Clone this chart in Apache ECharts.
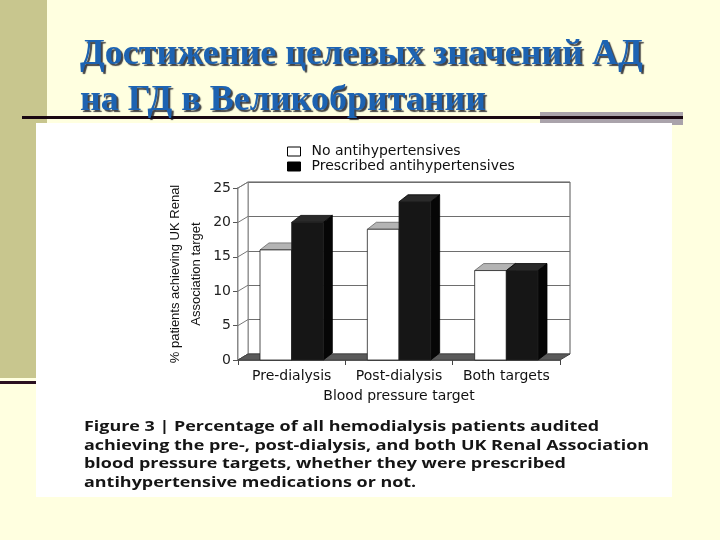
<!DOCTYPE html>
<html>
<head>
<meta charset="utf-8">
<script src="https://cdn.jsdelivr.net/npm/echarts@6/dist/echarts.min.js"></script>
<style>html,body{margin:0;padding:0;background:#FFFFE0;}#c{width:720px;height:540px;}</style>
</head>
<body>
<div id="c"></div>
<script>
// ---- data ----
var categories = ['Pre-dialysis', 'Post-dialysis', 'Both targets'];
var noAntihypertensives = [16, 19, 13];
var prescribedAntihypertensives = [20, 23, 13];
var yTicks = [0, 5, 10, 15, 20, 25];
var seriesNames = ['No antihypertensives', 'Prescribed antihypertensives'];
var titleText = 'Достижение целевых значений АД\nна ГД в Великобритании';
var captionLines = [
  'Figure 3 | Percentage of all hemodialysis patients audited',
  'achieving the pre-, post-dialysis, and both UK Renal Association',
  'blood pressure targets, whether they were prescribed',
  'antihypertensive medications or not.'
];

var chart = echarts.init(document.getElementById('c'), null, {renderer: 'canvas'});
var DX = 10, DY = -6;      // wall depth
var BDX = 9, BDY = -7;     // bar depth
var FONT = 'DejaVu Sans';

function wallsRender(params, api) {
  var cs = params.coordSys;
  var x = cs.x, y = cs.y, w = cs.width, h = cs.height;
  var children = [];
  children.push({type: 'polygon', shape: {points: [[x, y], [x + DX, y + DY], [x + DX, y + h + DY], [x, y + h]]},
    style: {fill: '#fff', stroke: '#888', lineWidth: 1}});
  yTicks.forEach(function (v) {
    var py = api.coord([0, v])[1];
    children.push({type: 'line', shape: {x1: x, y1: py, x2: x + DX, y2: py + DY}, style: {stroke: '#777', lineWidth: 1}});
  });
  children.push({type: 'polygon', shape: {points: [[x, y + h], [x + w, y + h], [x + w + DX, y + h + DY], [x + DX, y + h + DY]]},
    style: {fill: '#5a5a5a', stroke: '#444', lineWidth: 1}});
  return {type: 'group', children: children};
}

function barRender(which) {
  return function (params, api) {
    var i = api.value(0), v = api.value(1);
    var top = api.coord([i, v]);
    var base = api.coord([i, 0]);
    var band = api.size([1, 0])[0];
    var bw = band * 0.295;
    var x0 = which === 0 ? top[0] - bw : top[0];
    var yt = top[1], yb = base[1];
    var frontFill = which === 0 ? '#ffffff' : '#161616';
    var topFill = which === 0 ? '#b4b4b4' : '#2a2a2a';
    var sideFill = which === 0 ? '#9a9a9a' : '#060606';
    return {type: 'group', children: [
      {type: 'polygon', shape: {points: [[x0 + bw, yt], [x0 + bw + BDX, yt + BDY], [x0 + bw + BDX, yb + BDY], [x0 + bw, yb]]},
        style: {fill: sideFill, stroke: '#000', lineWidth: 0.8}},
      {type: 'polygon', shape: {points: [[x0, yt], [x0 + bw, yt], [x0 + bw + BDX, yt + BDY], [x0 + BDX, yt + BDY]]},
        style: {fill: topFill, stroke: which === 0 ? '#666' : '#000', lineWidth: 0.8}},
      {type: 'rect', shape: {x: x0, y: yt, width: bw, height: yb - yt},
        style: {fill: frontFill, stroke: '#222', lineWidth: 0.8}}
    ]};
  };
}

var option = {
  backgroundColor: '#FFFFE0',
  animation: false,
  title: {
    text: titleText, left: 75, top: 27,
    textStyle: {fontFamily: 'Liberation Serif', fontWeight: 'bold', fontSize: 36, lineHeight: 46,
      color: '#1d63b2', textShadowColor: 'rgba(20,20,30,0.8)', textShadowOffsetX: 2, textShadowOffsetY: 2, textShadowBlur: 1}
  },
  graphic: [
    {type: 'rect', z: -100, shape: {x: 0, y: 0, width: 47, height: 378}, style: {fill: '#C8C68E'}},
    {type: 'rect', z: -99, shape: {x: 0, y: 381, width: 37, height: 3}, style: {fill: '#2a1020'}},
    {type: 'rect', z: -99, shape: {x: 540, y: 112, width: 143, height: 13}, style: {fill: '#aaa3ab'}},
    {type: 'rect', z: -98, shape: {x: 22, y: 116, width: 661, height: 3}, style: {fill: '#1a0812'}},
    {type: 'rect', z: -97, shape: {x: 36, y: 123, width: 636, height: 374}, style: {fill: '#ffffff'}},
    {type: 'text', z: 10, x: 84, y: 418, scaleX: 1.28,
      style: {text: captionLines.join('\n'), font: 'bold 14px "Open Sans"', lineHeight: 18.5, fill: '#151515'}}
  ],
  legend: {
    orient: 'vertical', left: 282, top: 139, itemWidth: 13, itemHeight: 9, itemGap: 0,
    icon: 'rect',
    textStyle: {fontFamily: FONT, fontSize: 14, color: '#111', lineHeight: 15, padding: [0, 0, 0, 6]},
    data: [
      {name: seriesNames[0], itemStyle: {color: '#fff', borderColor: '#000', borderWidth: 1}},
      {name: seriesNames[1], itemStyle: {color: '#000', borderColor: '#000', borderWidth: 1}}
    ]
  },
  grid: [
    {left: 248, top: 182, right: 150, bottom: 186, show: true, backgroundColor: '#fff', borderColor: '#555', borderWidth: 1, z: 0},
    {left: 238, top: 188, right: 160, bottom: 180, z: 1}
  ],
  xAxis: [
    {gridIndex: 0, type: 'category', data: categories, show: false},
    {gridIndex: 1, type: 'category', data: categories,
      axisLine: {show: true, lineStyle: {color: '#666', width: 1}},
      axisTick: {show: true, length: 5, lineStyle: {color: '#444'}},
      axisLabel: {fontFamily: FONT, fontSize: 14, color: '#111', margin: 9, interval: 0, hideOverlap: false},
      name: 'Blood pressure target', nameLocation: 'middle', nameGap: 29,
      nameTextStyle: {fontFamily: FONT, fontSize: 14, color: '#111'}}
  ],
  yAxis: [
    {gridIndex: 0, type: 'value', min: 0, max: 25, interval: 5,
      axisLine: {show: false}, axisTick: {show: false}, axisLabel: {show: false},
      splitLine: {show: true, lineStyle: {color: '#6e6e6e', width: 1}}},
    {gridIndex: 1, type: 'value', min: 0, max: 25, interval: 5,
      axisLine: {show: true, lineStyle: {color: '#888', width: 2}},
      axisTick: {show: true, length: 5, lineStyle: {color: '#555'}},
      axisLabel: {fontFamily: FONT, fontSize: 14, color: '#222', margin: 7},
      splitLine: {show: false},
      name: '% patients achieving UK Renal\nAssociation target', nameLocation: 'middle', nameGap: 31, nameRotate: 90,
      nameTextStyle: {fontFamily: 'Liberation Sans', fontSize: 13, color: '#111', lineHeight: 21}}
  ],
  series: [
    {type: 'custom', name: 'walls', xAxisIndex: 1, yAxisIndex: 1, data: [[0, 0]], renderItem: wallsRender, silent: true, z: 2},
    {type: 'custom', name: seriesNames[0], xAxisIndex: 1, yAxisIndex: 1, z: 3,
      itemStyle: {color: '#fff', borderColor: '#000'},
      data: noAntihypertensives.map(function (v, i) { return [i, v]; }), renderItem: barRender(0)},
    {type: 'custom', name: seriesNames[1], xAxisIndex: 1, yAxisIndex: 1, z: 4,
      itemStyle: {color: '#000'},
      data: prescribedAntihypertensives.map(function (v, i) { return [i, v]; }), renderItem: barRender(1)}
  ]
};
chart.setOption(option);
</script>
</body>
</html>
